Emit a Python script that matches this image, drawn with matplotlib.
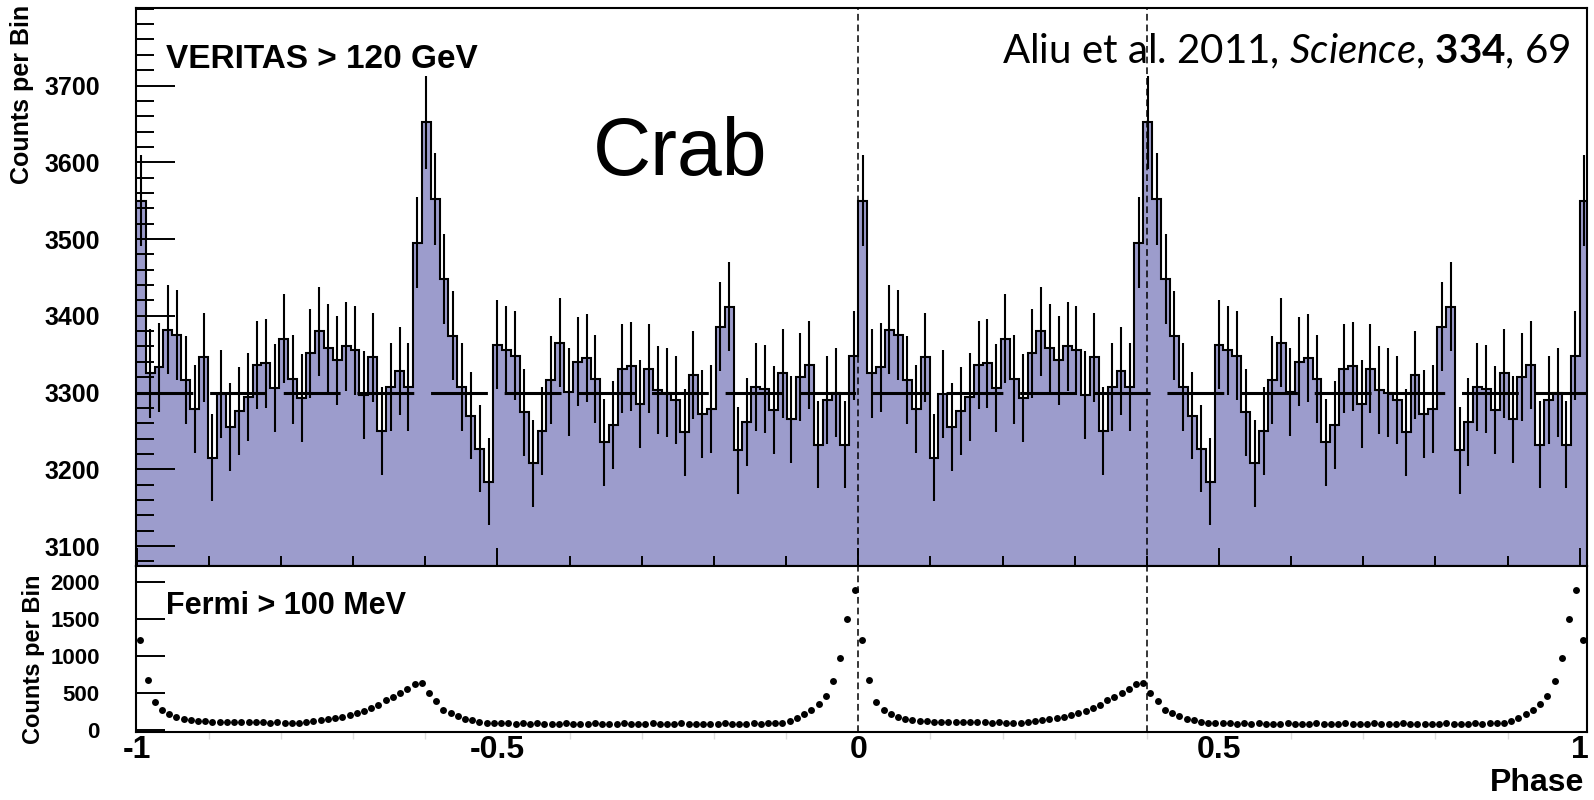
import numpy as np
import matplotlib.pyplot as plt
from matplotlib.ticker import MultipleLocator

plt.rcParams['font.family'] = 'Liberation Sans'
plt.rcParams['font.weight'] = 'bold'
plt.rcParams['mathtext.fontset'] = 'custom'
plt.rcParams['mathtext.rm'] = 'Lato:weight=normal'
plt.rcParams['mathtext.it'] = 'Lato:style=italic:weight=normal'
plt.rcParams['mathtext.bf'] = 'Lato:weight=bold'

# VERITAS > 120 GeV phaseogram, one period (counts per bin)
veritas_counts = [
    3550, 3325, 3333, 3382, 3375, 3316, 3278, 3346, 3215, 3298,
    3255, 3276, 3294, 3336, 3338, 3306, 3370, 3317, 3293, 3351,
    3380, 3358, 3342, 3360, 3355, 3297, 3346, 3250, 3307, 3328,
    3307, 3495, 3652, 3552, 3448, 3374, 3307, 3270, 3227, 3184,
    3362, 3355, 3348, 3274, 3208, 3250, 3316, 3365, 3301, 3340,
    3345, 3318, 3235, 3258, 3331, 3334, 3285, 3331, 3303, 3300,
    3290, 3248, 3323, 3272, 3278, 3386, 3412, 3225, 3262, 3307,
    3305, 3277, 3325, 3265, 3320, 3336, 3232, 3290, 3300, 3232,
    3348,
]
background_level = 3300

# Fermi > 100 MeV profile, one period, 100 bins
fermi_counts = [
    1210, 675, 375, 275, 220, 183, 155, 138, 127, 120,
    115, 112, 108, 110, 106, 108, 104, 110, 100, 104,
    98, 102, 96, 106, 118, 130, 145, 160, 180, 202,
    225, 255, 295, 340, 400, 445, 495, 555, 615, 640,
    500, 388, 275, 226, 184, 150, 130, 115, 102, 96,
    92, 90, 88, 92, 86, 90, 84, 88, 86, 90,
    85, 88, 84, 90, 86, 88, 85, 92, 86, 84,
    88, 90, 86, 84, 88, 92, 86, 82, 88, 84,
    86, 90, 84, 88, 86, 90, 88, 92, 95, 100,
    118, 160, 215, 268, 350, 465, 660, 965, 1500, 1888,
]

periods = [-1, 0, 1]
peak_phases = [0.0, 0.4]
phase_ticks = [-1, -0.5, 0, 0.5, 1]
phase_labels = ['-1', '-0.5', '0', '0.5', '1']
veritas_ticks = [3100, 3200, 3300, 3400, 3500, 3600, 3700]
fermi_ticks = [0, 500, 1000, 1500, 2000]

W, H = 1594, 800
fig = plt.figure(figsize=(W / 100, H / 100), dpi=100)


def panel(left, top, right, bottom):
    return fig.add_axes([left / W, 1 - bottom / H, (right - left) / W, (bottom - top) / H])


ax1 = panel(136, 8, 1587, 566)
ax2 = panel(136, 566, 1587, 732)

# repeat the profiles over several periods
nb = len(veritas_counts)
edges = np.concatenate([p + np.arange(nb) / nb for p in periods] + [[periods[-1] + 1.0]])
counts = np.tile(np.array(veritas_counts, dtype=float), len(periods))
centers = 0.5 * (edges[:-1] + edges[1:])

ax1.stairs(counts, edges, baseline=0, fill=True, color='#9c9ccc', lw=0)
ax1.stairs(counts, edges, baseline=None, color='black', lw=1.5)
ax1.errorbar(centers, counts, yerr=np.sqrt(counts), fmt='none', ecolor='black', elinewidth=1.5)
ax1.axhline(background_level, color='black', lw=2.2, dashes=(18.6, 5.5))

nf = len(fermi_counts)
fphase = np.concatenate([p + (np.arange(nf) + 0.5) / nf for p in periods])
ax2.plot(fphase, np.tile(fermi_counts, len(periods)), 'o', ms=5, color='black', mew=0)

for ax in (ax1, ax2):
    ax.set_xlim(-1.001, 1.010)
    for p in peak_phases:
        ax.axvline(p, color='black', lw=1.1, dashes=(4.4, 2.6))
    for s in ax.spines.values():
        s.set_linewidth(1.5)
    ax.set_xticks(phase_ticks)

ax1.set_ylim(3074, 3801)
ax1.set_yticks(veritas_ticks)
ax1.yaxis.set_minor_locator(MultipleLocator(20))
ax1.xaxis.set_minor_locator(MultipleLocator(0.1))
ax1.tick_params(axis='y', which='major', direction='in', length=28, width=1.4, labelsize=18, pad=26)
ax1.tick_params(axis='y', which='minor', direction='in', length=13, width=1.4)
ax1.tick_params(axis='x', which='major', direction='in', length=13, width=1.4, labelbottom=False)
ax1.tick_params(axis='x', which='minor', direction='in', length=7, width=1.4)

ax2.set_ylim(-25, 2210)
ax2.set_yticks(fermi_ticks)
ax2.set_xticklabels(phase_labels)
ax2.xaxis.set_minor_locator(MultipleLocator(0.1))
ax2.tick_params(axis='y', which='major', direction='in', length=21, width=1.4, labelsize=16, pad=26)
ax2.tick_params(axis='x', which='major', length=0, labelsize=23, pad=2)
ax2.tick_params(axis='x', which='minor', direction='out', length=5, width=1, color='#dddddd')

fig.text(166 / W, 1 - 60 / H, 'VERITAS > 120 GeV', fontsize=24, va='center', ha='left')
fig.text(166 / W, 1 - 606 / H, 'Fermi > 100 MeV', fontsize=22, va='center', ha='left')
fig.text(680 / W, 1 - 154 / H, 'Crab', fontsize=58, fontweight='normal', ha='center', va='center')
fig.text(1571 / W, 1 - 63 / H, r'Aliu et al. 2011, $\mathit{Science}$, $\mathbf{334}$, 69',
         family='Lato', fontweight='normal', fontsize=29, ha='right', va='baseline')
fig.text(1584 / W, 1 - 783 / H, 'Phase', fontsize=23, ha='right', va='center')
fig.text(22 / W, 1 - 5 / H, 'Counts per Bin', fontsize=18, rotation=90, ha='center', va='top')
fig.text(34 / W, 1 - 574 / H, 'Counts per Bin', fontsize=17, rotation=90, ha='center', va='top')

fig.savefig('out.png', dpi=100)
